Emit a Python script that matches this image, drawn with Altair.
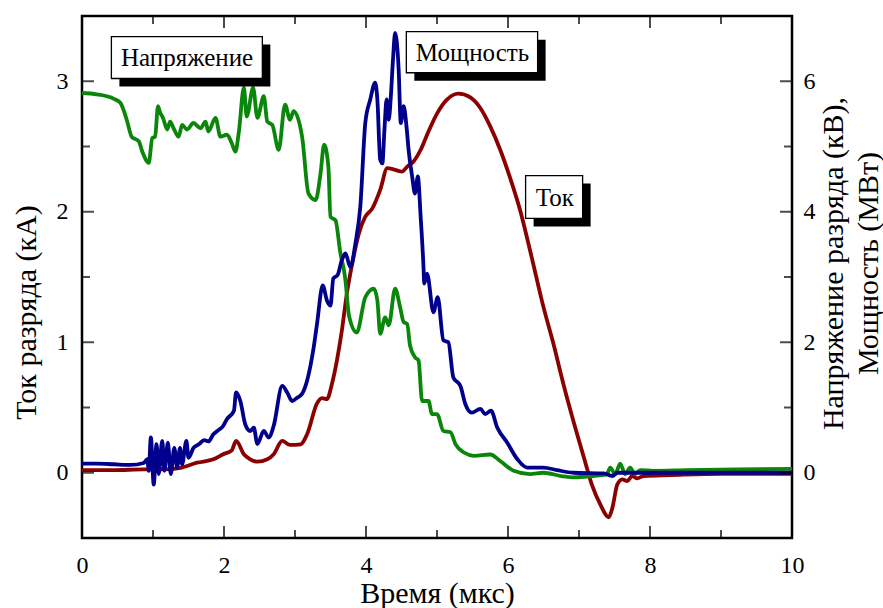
import altair as alt
import pandas as pd

SERIF = "'Liberation Serif', 'Times New Roman', Times, serif"

# ---- data ----
t_I = [0.0, 0.45, 0.87, 1.15, 1.39, 1.62, 1.85, 1.99, 2.11, 2.17, 2.28, 2.37, 2.47, 2.61, 2.70,
       2.82, 2.93, 3.08, 3.17, 3.31, 3.38, 3.45, 3.52, 3.59, 3.66, 3.73, 3.81, 3.90, 3.99, 4.09,
       4.20, 4.30, 4.41, 4.51, 4.58, 4.67, 4.77, 4.88, 5.00, 5.14, 5.30, 5.47, 5.61, 5.75, 5.89,
       6.03, 6.17, 6.31, 6.50, 6.64, 6.78, 6.92, 7.07, 7.18, 7.30, 7.42, 7.47, 7.54, 7.61, 7.68,
       7.75, 7.82, 7.91, 8.29, 8.99, 10.0]
current = [0.02, 0.02, 0.026, 0.026, 0.038, 0.077, 0.103, 0.142, 0.172, 0.244, 0.142, 0.103, 0.085,
           0.103, 0.142, 0.244, 0.213, 0.218, 0.295, 0.532, 0.572, 0.565, 0.68, 0.859, 1.09, 1.372,
           1.613, 1.834, 1.962, 2.026, 2.167, 2.334, 2.321, 2.308, 2.346, 2.385, 2.475, 2.615, 2.752,
           2.859, 2.905, 2.876, 2.795, 2.654, 2.475, 2.259, 2.013, 1.705, 1.269, 0.988, 0.68, 0.398,
           0.115, -0.089, -0.243, -0.341, -0.269, -0.089, -0.051, -0.064, -0.025, -0.043, -0.025,
           -0.018, -0.008, -0.008]

t_V = [0.0, 0.21, 0.45, 0.54, 0.63, 0.70, 0.80, 0.85, 0.94, 0.99, 1.03, 1.07, 1.10, 1.14, 1.20,
       1.24, 1.29, 1.36, 1.41, 1.48, 1.57, 1.67, 1.74, 1.78, 1.88, 1.95, 2.04, 2.11, 2.16, 2.21,
       2.28, 2.32, 2.41, 2.47, 2.56, 2.61, 2.68, 2.77, 2.86, 2.93, 2.98, 3.10, 3.19, 3.29, 3.36,
       3.41, 3.47, 3.50, 3.57, 3.64, 3.69, 3.71, 3.76, 3.87, 3.99, 4.11, 4.16, 4.20, 4.27, 4.32,
       4.41, 4.48, 4.53, 4.58, 4.62, 4.69, 4.74, 4.79, 4.88, 4.93, 5.00, 5.09, 5.19, 5.26, 5.38,
       5.52, 5.75, 5.89, 6.08, 6.31, 6.50, 6.75, 6.92, 7.20, 7.39, 7.44, 7.51, 7.58, 7.65, 7.72,
       7.79, 7.86, 8.05, 8.52, 9.23, 10.0]
voltage = [5.82, 5.80, 5.73, 5.67, 5.41, 5.15, 5.08, 4.92, 4.75, 5.13, 5.15, 5.62, 5.52, 5.44, 5.26,
           5.38, 5.28, 5.15, 5.33, 5.26, 5.36, 5.28, 5.38, 5.23, 5.44, 5.15, 5.18, 5.05, 4.92, 5.23,
           5.90, 5.46, 5.90, 5.44, 5.77, 5.38, 5.33, 4.95, 5.64, 5.41, 5.54, 5.15, 4.28, 4.18, 4.59,
           5.03, 4.69, 3.92, 3.87, 3.36, 3.10, 2.95, 2.41, 2.15, 2.69, 2.82, 2.64, 2.13, 2.38, 2.26,
           2.82, 2.54, 2.31, 2.28, 1.95, 1.77, 1.72, 1.10, 1.10, 0.90, 0.90, 0.64, 0.62, 0.44, 0.31,
           0.26, 0.28, 0.18, 0.03, -0.02, 0.0, -0.05, -0.07, -0.05, -0.025, 0.08, -0.02, 0.14, -0.02,
           0.08, -0.02, 0.04, 0.03, 0.04, 0.05, 0.06]

t_P = [0.0, 0.21, 0.45, 0.68, 0.87, 0.92, 0.94, 0.97, 1.01, 1.05, 1.08, 1.13, 1.16, 1.21, 1.25,
       1.30, 1.34, 1.38, 1.41, 1.47, 1.50, 1.57, 1.65, 1.72, 1.78, 1.85, 1.93, 1.99, 2.04, 2.14,
       2.17, 2.23, 2.30, 2.37, 2.42, 2.47, 2.56, 2.63, 2.70, 2.82, 2.89, 2.96, 3.03, 3.10, 3.17,
       3.26, 3.31, 3.39, 3.45, 3.50, 3.54, 3.60, 3.66, 3.71, 3.78, 3.85, 3.92, 3.99, 4.06, 4.13,
       4.16, 4.20, 4.23, 4.26, 4.29, 4.32, 4.35, 4.38, 4.41, 4.46, 4.49, 4.53, 4.57, 4.60, 4.65,
       4.69, 4.73, 4.77, 4.81, 4.82, 4.86, 4.95, 5.01, 5.09, 5.16, 5.23, 5.33, 5.40, 5.49, 5.61,
       5.68, 5.76, 5.85, 5.99, 6.13, 6.27, 6.50, 6.69, 6.92, 7.35, 7.47, 7.54, 10.0]
power = [0.14, 0.14, 0.13, 0.12, 0.15, 0.21, 0.03, 0.54, -0.18, 0.44, -0.02, 0.49, 0.03, 0.46, -0.02,
         0.38, 0.08, 0.38, 0.13, 0.49, 0.23, 0.38, 0.44, 0.50, 0.48, 0.59, 0.66, 0.72, 0.82, 0.95,
         1.23, 1.10, 0.74, 0.64, 0.69, 0.44, 0.64, 0.54, 0.72, 1.33, 1.23, 1.10, 1.15, 1.21, 1.41,
         1.90, 2.28, 2.87, 2.64, 2.56, 2.98, 3.03, 3.26, 3.36, 3.15, 3.51, 4.08, 5.36, 5.72, 5.98,
         5.72, 4.80, 4.74, 5.26, 5.72, 5.41, 5.77, 6.33, 6.74, 6.18, 5.36, 5.62, 5.31, 4.95, 4.54,
         4.28, 4.54, 3.92, 3.15, 2.90, 3.05, 2.46, 2.69, 2.03, 2.00, 1.46, 1.33, 1.05, 0.92, 0.98,
         0.90, 0.95, 0.69, 0.46, 0.21, 0.08, 0.08, 0.04, 0.0, -0.01, -0.05, 0.0, 0.0]

x_ticks = [0, 2, 4, 6, 8, 10]
x_minor = [1, 3, 5, 7, 9]
left_ticks = [0, 1, 2, 3]
left_minor = [-0.5, 0.5, 1.5, 2.5, 3.5]
right_ticks = [0, 2, 4, 6]

labels = ["Напряжение", "Мощность", "Ток"]
label_x = [1.48, 5.50, 6.66]
label_y = [3.115, 3.154, 2.046]
box_x1 = [0.414, 4.568, 6.248]
box_x2 = [2.540, 6.417, 7.051]
box_y1 = [3.021, 3.065, 1.949]
box_y2 = [3.342, 3.380, 2.277]

X_DOM = [0, 10]
YL_DOM = [-0.5, 3.5]
YR_DOM = [-1, 7]

# ---- frames ----
df_I = pd.DataFrame({"t": t_I, "v": current})
df_V = pd.DataFrame({"t": t_V, "v": voltage})
df_P = pd.DataFrame({"t": t_P, "v": power})
df_lab = pd.DataFrame({"label": labels, "x": label_x, "y": label_y,
                       "x1": box_x1, "x2": box_x2, "y1": box_y1, "y2": box_y2})

tick_major_x = pd.DataFrame({"x": x_ticks * 2, "y": [YL_DOM[0]] * len(x_ticks) + [YL_DOM[1]] * len(x_ticks)})
tick_minor_x = pd.DataFrame({"x": x_minor * 2, "y": [YL_DOM[0]] * len(x_minor) + [YL_DOM[1]] * len(x_minor)})
tick_major_y = pd.DataFrame({"x": [0] * len(left_ticks) + [10] * len(left_ticks), "y": left_ticks * 2})
tick_minor_y = pd.DataFrame({"x": [0] * len(left_minor) + [10] * len(left_minor), "y": left_minor * 2})

x_axis = alt.Axis(values=x_ticks, ticks=False, tickSize=0, domain=False, grid=False,
                  labelFont=SERIF, labelFontSize=24, labelColor="black", labelPadding=15,
                  labelFlush=False, labelOverlap=False,
                  title="Время (мкс)", titleFont=SERIF, titleFontSize=30, titleFontWeight="normal",
                  titleColor="black", titleX=355, titleY=64, titleBaseline="alphabetic",
                  titleAlign="center")


def X(field="t"):
    return alt.X(f"{field}:Q", scale=alt.Scale(domain=X_DOM, nice=False, zero=False), axis=x_axis)


def YL(field="y", axis=None):
    return alt.Y(f"{field}:Q", scale=alt.Scale(domain=YL_DOM, nice=False, zero=False), axis=axis)


left_axis = alt.Axis(values=left_ticks, format="d", ticks=False, tickSize=0, domain=False, grid=False,
                     labelFont=SERIF, labelFontSize=24, labelColor="black", labelPadding=14,
                     labelFlush=False, labelOverlap=False,
                     title="Ток разряда (кА)", titleFont=SERIF, titleFontSize=30,
                     titleFontWeight="normal", titleColor="black", titleAngle=270,
                     titleX=-47, titleY=296, titleBaseline="alphabetic", titleAlign="center")

right_axis = alt.Axis(orient="right", values=right_ticks, format="d", ticks=False, tickSize=0,
                      domain=False, grid=False,
                      labelFont=SERIF, labelFontSize=24, labelColor="black", labelPadding=11,
                      labelFlush=False, labelOverlap=False,
                      title=["Напряжение разряда (кВ),", "Мощность (МВт)"], titleFont=SERIF,
                      titleFontSize=30, titleFontWeight="normal", titleColor="black",
                      titleAngle=270, titleX=50, titleY=247, titleLineHeight=35,
                      titleBaseline="alphabetic", titleAlign="center")

LW = 3.8
line_I = alt.Chart(df_I).mark_line(color="#8b0000", strokeWidth=LW, strokeJoin="round",
                                   interpolate="monotone", clip=True).encode(
    x=X(), y=YL("v", left_axis))
line_V = alt.Chart(df_V).mark_line(color="#0a870a", strokeWidth=LW, strokeJoin="round",
                                   interpolate="monotone", clip=True).encode(
    x=X(), y=alt.Y("v:Q", scale=alt.Scale(domain=YR_DOM, nice=False, zero=False), axis=right_axis))
line_P = alt.Chart(df_P).mark_line(color="#00008c", strokeWidth=LW, strokeJoin="round",
                                   interpolate="monotone", clip=True).encode(
    x=X(), y=alt.Y("v:Q", scale=alt.Scale(domain=YR_DOM, nice=False, zero=False), axis=None))

ticks_mx = alt.Chart(tick_major_x).mark_tick(orient="vertical", size=24, thickness=2, color="black",
                                             clip=True).encode(x=X("x"), y=YL("y"))
ticks_nx = alt.Chart(tick_minor_x).mark_tick(orient="vertical", size=16, thickness=2, color="black",
                                             clip=True).encode(x=X("x"), y=YL("y"))
ticks_my = alt.Chart(tick_major_y).mark_tick(orient="horizontal", size=24, thickness=2, color="black",
                                             clip=True).encode(x=X("x"), y=YL("y"))
ticks_ny = alt.Chart(tick_minor_y).mark_tick(orient="horizontal", size=16, thickness=2, color="black",
                                             clip=True).encode(x=X("x"), y=YL("y"))

shadow = alt.Chart(df_lab).mark_rect(color="black", xOffset=8, x2Offset=8, yOffset=8, y2Offset=8).encode(
    x=X("x1"), x2="x2:Q", y=YL("y1"), y2="y2:Q")
box = alt.Chart(df_lab).mark_rect(fill="white", stroke="black", strokeWidth=1.3).encode(
    x=X("x1"), x2="x2:Q", y=YL("y1"), y2="y2:Q")
text = alt.Chart(df_lab).mark_text(font=SERIF, fontSize=25, color="black", align="center",
                                   baseline="alphabetic").encode(
    x=X("x"), y=YL("y"), text="label:N")

chart = alt.layer(
    line_I, line_V, line_P, ticks_mx, ticks_nx, ticks_my, ticks_ny, shadow, box, text
).resolve_scale(y="independent").properties(
    width=710, height=522,
    padding={"left": 82, "top": 16, "right": 91, "bottom": 70},
    autosize=alt.AutoSizeParams(type="none"),
    background="white",
).configure_view(stroke="black", strokeWidth=2.5)

chart.save("out.html", embed_options={"renderer": "svg", "actions": False})
